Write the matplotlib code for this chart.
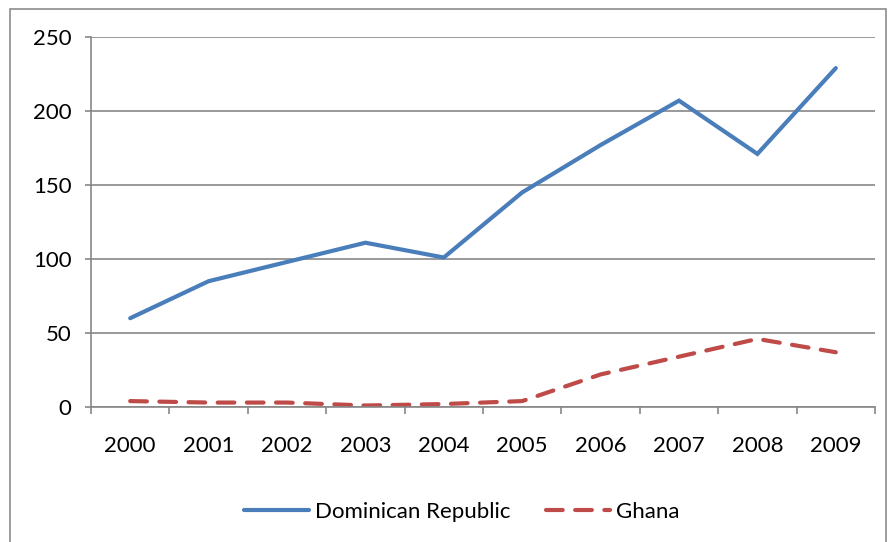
import numpy as np
import matplotlib.pyplot as plt
from matplotlib.patches import Rectangle

years = ['2000', '2001', '2002', '2003', '2004', '2005', '2006', '2007', '2008', '2009']
dominican = [60, 85, 98, 111, 101, 145, 177, 207, 171, 229]
ghana = [4, 3, 3, 1, 2, 4, 22, 34, 46, 37]
yticks = [0, 50, 100, 150, 200, 250]

plt.rcParams['font.family'] = ['Lato', 'DejaVu Sans']
gray = '#878787'

fig = plt.figure(figsize=(8.89, 5.42), dpi=100)
fig.patches.append(Rectangle((10 / 889, -0.05), 876 / 889, 1 - 9 / 542 + 0.05,
                             transform=fig.transFigure, fill=False,
                             edgecolor='#8c8c8c', linewidth=1.2))

ax = fig.add_axes([91 / 889, 135 / 542, 784 / 889, 370 / 542])
x = np.arange(len(years))
ax.plot(x, dominican, color='#4A7EBB', linewidth=3, solid_capstyle='round',
        solid_joinstyle='miter', label='Dominican Republic')
ax.plot(x, ghana, color='#BE4B48', linewidth=3, dashes=(4, 3),
        dash_capstyle='round', label='Ghana')

ax.set_xlim(-0.5, 9.5)
ax.set_ylim(0, 250)
ax.set_yticks(yticks)
ax.set_xticks(x)
ax.set_xticklabels(years)
ax.set_xticks(np.arange(-0.5, 10, 1), minor=True)
ax.tick_params(axis='x', which='major', length=0, pad=21, labelsize=16)
ax.tick_params(axis='x', which='minor', length=5, width=1.2, color=gray)
ax.tick_params(axis='y', length=4, width=1.2, color=gray, pad=10, labelsize=16)
ax.grid(axis='y', color=gray, linewidth=1.2)
ax.set_axisbelow(True)
for side in ['top', 'right']:
    ax.spines[side].set_visible(False)
for side in ['left', 'bottom']:
    ax.spines[side].set_color(gray)
    ax.spines[side].set_linewidth(1.2)

fig.legend(loc='center', bbox_to_anchor=(462 / 889, 1 - 512 / 542), ncol=2,
           frameon=False, fontsize=16, handlelength=2.9, columnspacing=1.6,
           handletextpad=0.27)

fig.savefig('out.png', dpi=100)
